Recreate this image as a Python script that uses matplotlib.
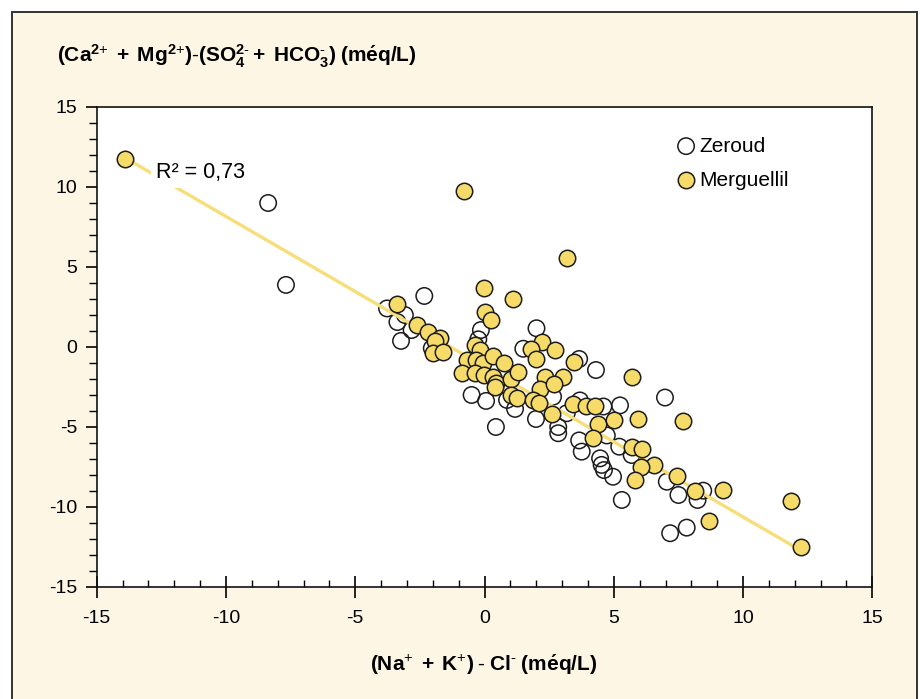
import numpy as np
import matplotlib.pyplot as plt
from matplotlib.patches import Rectangle

plt.rcParams['font.family'] = ['Liberation Sans', 'DejaVu Sans']
plt.rcParams['mathtext.fontset'] = 'custom'
plt.rcParams['mathtext.rm'] = 'Liberation Sans'
plt.rcParams['mathtext.bf'] = 'Liberation Sans:bold'
plt.rcParams['mathtext.it'] = 'Liberation Sans:italic'
plt.rcParams['axes.unicode_minus'] = False

# Zeroud (open circles)
zer_x = [-8.37, -7.68, -2.33, -3.77, -3.37, -3.08, -3.23, -2.82, -2.04, -0.24,
         -0.14, -0.50, 0.06, 0.44, 1.18, 0.87, 2.01, 1.50, 3.66, 4.31,
         1.99, 2.65, 2.85, 2.85, 3.66, 3.76, 4.47, 4.53, 4.62, 4.97,
         5.31, 5.24, 4.60, 3.69, 4.73, 6.98, 5.69, 5.21, 7.05, 7.50,
         8.24, 8.46, 7.18, 7.82, 3.18]
zer_y = [8.98, 3.86, 3.17, 2.39, 1.54, 1.98, 0.36, 1.04, -0.10, 0.46,
         1.04, -3.02, -3.39, -5.02, -3.89, -3.33, 1.15, -0.13, -0.77, -1.46,
         -4.52, -3.13, -5.02, -5.41, -5.86, -6.56, -6.98, -7.39, -7.71, -8.13,
         -9.58, -3.67, -3.74, -3.36, -5.55, -3.18, -6.77, -6.25, -8.44, -9.27,
         -9.58, -9.00, -11.66, -11.31, -4.16]

# Merguellil (yellow circles)
mer_x = [-13.91, -0.79, 3.19, -3.38, -0.02, 1.10, 0.03, 0.25, -2.62, -2.17,
         -1.72, -1.91, -2.00, -1.59, -0.37, -0.17, -0.68, -0.88, -0.33, -0.05,
         0.33, 0.75, -0.37, -0.02, 0.34, 0.44, 0.41, 1.04, 1.30, 1.01,
         1.25, 2.21, 1.78, 2.74, 2.01, 3.46, 5.69, 2.32, 3.05, 2.15,
         2.69, 1.89, 2.09, 2.60, 3.43, 3.93, 4.27, 4.40, 5.02, 5.95,
         7.69, 4.20, 5.71, 6.11, 6.57, 6.05, 5.82, 7.44, 8.14, 9.21,
         8.70, 11.87, 12.24]
mer_y = [11.73, 9.73, 5.54, 2.67, 3.67, 2.98, 2.17, 1.67, 1.36, 0.92,
         0.53, 0.36, -0.41, -0.31, 0.11, -0.21, -0.83, -1.66, -0.83, -1.04,
         -0.58, -1.02, -1.66, -1.77, -1.89, -2.24, -2.52, -1.99, -1.56, -2.99,
         -3.22, 0.31, -0.17, -0.23, -0.74, -0.96, -1.89, -1.89, -1.89, -2.66,
         -2.33, -3.33, -3.52, -4.19, -3.61, -3.71, -3.71, -4.83, -4.58, -4.55,
         -4.63, -5.68, -6.29, -6.41, -7.39, -7.49, -8.33, -8.06, -9.02, -8.96,
         -10.89, -9.64, -12.55]

# regression line ends
fit_x = [-13.9, 12.3]
fit_y = [11.8, -12.8]

yellow = '#F6DB68'
edge = '#1c1c1c'

fig = plt.figure(figsize=(9.23, 6.99), dpi=100)
fig.patch.set_facecolor('white')
fig.patches.append(Rectangle((12/923, -0.05), (917-12)/923, 1.05 - 12/699,
                             transform=fig.transFigure, facecolor='#FEF6E4',
                             edgecolor='#333333', linewidth=1.4, zorder=-10))

ax = fig.add_axes([0.1048, 0.1607, 0.8403, 0.6867])
ax.set_facecolor('white')

ax.scatter(zer_x, zer_y, s=140, facecolors='none', edgecolors=edge, linewidths=1.1,
           zorder=2, label='Zeroud')
ax.plot(fit_x, fit_y, color='#F7DE78', lw=2.4, zorder=3, solid_capstyle='butt')
ax.scatter(mer_x, mer_y, s=140, facecolors=yellow, edgecolors=edge, linewidths=1.1,
           zorder=4, label='Merguellil')

ax.text(-12.7, 10.55, 'R² = 0,73', fontsize=15.5, ha='left', va='baseline', zorder=5,
        bbox=dict(boxstyle='square,pad=0.25', facecolor='white', edgecolor='none'))

ax.set_xlim(-15, 15)
ax.set_ylim(-15, 15)
ax.set_xticks(np.arange(-15, 16, 5))
ax.set_yticks(np.arange(-15, 16, 5))
ax.set_xticks(np.arange(-15, 16, 1), minor=True)
ax.set_yticks(np.arange(-15, 16, 1), minor=True)
ax.tick_params(axis='x', which='major', direction='inout', length=16, width=1.2,
               labelsize=14, pad=9)
ax.tick_params(axis='x', which='minor', direction='in', length=5, width=1)
ax.tick_params(axis='y', which='major', direction='out', length=8, width=1.2,
               labelsize=14, pad=6)
ax.tick_params(axis='y', which='minor', direction='out', length=6, width=1)
for s in ax.spines.values():
    s.set_linewidth(1.2)
    s.set_color('#111111')

ax.legend(loc='upper left', bbox_to_anchor=(0.733, 0.955), frameon=False,
          fontsize=15, handletextpad=0.05, labelspacing=0.72, markerscale=1.0,
          borderaxespad=0, handlelength=1.2)

fig.text(57/923, 1 - 56/699,
         r'$\mathbf{(Ca^{2\text{+}}\;+\;Mg^{2\text{+}})\text{-}(SO_4^{2\text{-}}+\;HCO_3^{\text{-}})\;(m\acute{e}q/L)}$',
         fontsize=15, ha='left', va='center')
fig.text(484/923, 1 - 665/699,
         r'$\mathbf{(Na^{\text{+}}\;+\;K^{\text{+}})\;\text{-}\;Cl^{\text{-}}\;(m\acute{e}q/L)}$',
         fontsize=15, ha='center', va='center')

fig.savefig('out.png', dpi=100, facecolor=fig.get_facecolor())
